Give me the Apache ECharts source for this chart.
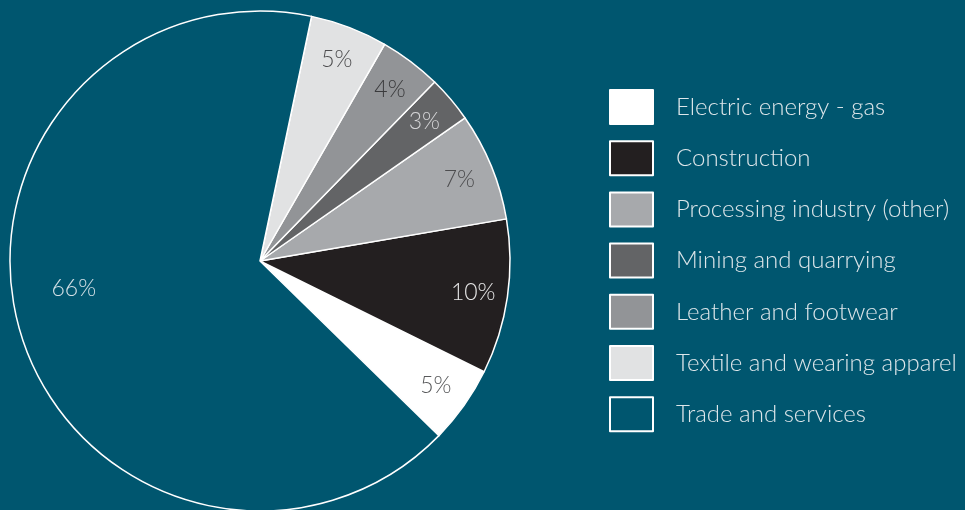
<!DOCTYPE html>
<html>
<head>
<meta charset="utf-8">
<script src="https://cdn.jsdelivr.net/npm/echarts@6/dist/echarts.min.js"></script>
<style>
  html, body { margin: 0; padding: 0; background: #00566f; }
  #chart { width: 965px; height: 510px; }
</style>
</head>
<body>
<div id="chart"></div>
<script>
// Employment by sector, share of total (%)
const sectors = [
  'Electric energy - gas',
  'Construction',
  'Processing industry (other)',
  'Mining and quarrying',
  'Leather and footwear',
  'Textile and wearing apparel',
  'Trade and services'
];
const shares = [5, 10, 7, 3, 4, 5, 66];

// Slice fills and the colour of each slice's value label
const BG = '#00566f';
const sliceColors = ['#ffffff', '#231f20', '#a7a9ac', '#636466', '#929497', '#e1e2e3', BG];
const labelColors = ['#58595b', '#e6e6e6', '#4d4d4f', '#d4d4d6', '#3a3a3c', '#4d4d4f', '#d3e0e6'];

const FONT = 'Lato, "Open Sans", sans-serif';
const TRADE = sectors.indexOf('Trade and services');

const sliceData = sectors.map((name, i) => ({
  name,
  value: shares[i],
  itemStyle: { color: sliceColors[i] }
}));

const labelData = sectors.map((name, i) => ({
  name,
  value: shares[i],
  label: { color: labelColors[i] }
}));

const chart = echarts.init(document.getElementById('chart'), null, { renderer: 'canvas' });

chart.setOption({
  backgroundColor: BG,
  animation: false,
  legend: {
    orient: 'vertical',
    left: 609,
    top: 89,
    padding: 0,
    itemWidth: 43,
    itemHeight: 34,
    itemGap: 15.2,
    icon: 'rect',
    selectedMode: false,
    data: sectors,
    textStyle: {
      color: '#dde6ea',
      fontFamily: FONT,
      fontWeight: 300,
      fontSize: 24,
      padding: [0, 0, 0, 18]
    }
  },
  series: [
    {
      // the slices
      type: 'pie',
      center: [260, 261],
      radius: [0, 250],
      clockwise: false,
      startAngle: -44.3,
      silent: true,
      label: { show: false },
      labelLine: { show: false },
      itemStyle: { borderColor: '#ffffff', borderWidth: 1.5 },
      emphasis: { disabled: true },
      data: sliceData
    },
    {
      // value labels, placed in an outer ring over the slices
      type: 'pie',
      center: [260, 261],
      radius: [175, 250],
      clockwise: false,
      startAngle: -44.3,
      silent: true,
      itemStyle: { color: 'rgba(0,0,0,0)', borderWidth: 0 },
      emphasis: { disabled: true },
      labelLine: { show: false },
      label: {
        show: true,
        position: 'inside',
        formatter: '{c}%',
        fontFamily: FONT,
        fontWeight: 300,
        fontSize: 23
      },
      // the large slice carries its label a little higher, nearer the centre line
      labelLayout: (params) => params.dataIndex === TRADE ? { dx: 20, dy: -35 } : {},
      data: labelData
    }
  ]
});
</script>
</body>
</html>
